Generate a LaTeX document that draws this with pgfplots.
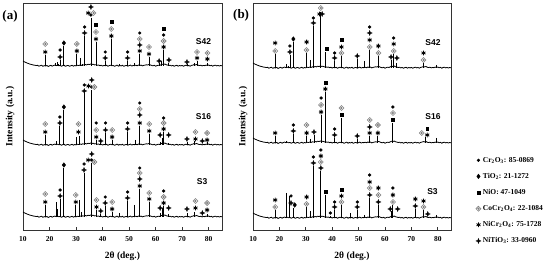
\documentclass[border=0pt]{standalone}
\usepackage{fontspec}
\setmainfont{Liberation Serif}
\newfontfamily\arialfont{Liberation Sans}
\usepackage{pgfplots}
\pgfplotsset{compat=1.18}
\usepackage{pgfplotstable}

% four point star (NiTiO3)
\pgfdeclareplotmark{fourstar}{%
  \pgfpathmoveto{\pgfpoint{0pt}{\pgfplotmarksize}}%
  \pgfpathlineto{\pgfpoint{0.28\pgfplotmarksize}{0.28\pgfplotmarksize}}%
  \pgfpathlineto{\pgfpoint{\pgfplotmarksize}{0pt}}%
  \pgfpathlineto{\pgfpoint{0.28\pgfplotmarksize}{-0.28\pgfplotmarksize}}%
  \pgfpathlineto{\pgfpoint{0pt}{-\pgfplotmarksize}}%
  \pgfpathlineto{\pgfpoint{-0.28\pgfplotmarksize}{-0.28\pgfplotmarksize}}%
  \pgfpathlineto{\pgfpoint{-\pgfplotmarksize}{0pt}}%
  \pgfpathlineto{\pgfpoint{-0.28\pgfplotmarksize}{0.28\pgfplotmarksize}}%
  \pgfpathclose
  \pgfusepathqfillstroke}
% diamond in diamond (CoCr2O4)
\pgfdeclareplotmark{ddiamond}{%
  \pgfpathmoveto{\pgfpoint{0pt}{\pgfplotmarksize}}%
  \pgfpathlineto{\pgfpoint{\pgfplotmarksize}{0pt}}%
  \pgfpathlineto{\pgfpoint{0pt}{-\pgfplotmarksize}}%
  \pgfpathlineto{\pgfpoint{-\pgfplotmarksize}{0pt}}%
  \pgfpathclose
  \pgfsetfillcolor{white}\pgfusepathqfillstroke
  \pgfpathmoveto{\pgfpoint{0pt}{0.5\pgfplotmarksize}}%
  \pgfpathlineto{\pgfpoint{0.5\pgfplotmarksize}{0pt}}%
  \pgfpathlineto{\pgfpoint{0pt}{-0.5\pgfplotmarksize}}%
  \pgfpathlineto{\pgfpoint{-0.5\pgfplotmarksize}{0pt}}%
  \pgfpathclose
  \pgfsetfillcolor{gray}\pgfusepathqfill}

% background noise shared by all patterns (relative to each baseline)
\pgfplotstableread{
x n
10 5.0
10.5 4.2
11 3.6
11.5 3.0
12 2.5
12.5 2.0
13 1.6
13.5 1.3
14 0.9
14.5 0.8
15 0.4
15.5 0.7
16 -0.2
16.5 0.3
17 0.8
17.5 -0.4
18 0.4
18.5 -0.1
19 0.6
19.5 -0.5
20 0.2
20.5 0.7
21 -0.2
21.5 0.5
22 0.9
22.5 0.3
23 0.8
23.5 0.2
24 0.6
24.5 -0.3
25 0.4
25.5 0.8
26 -0.4
26.5 0.3
27 0.6
27.5 -0.3
28 0.2
28.5 0.7
29 -0.2
29.5 0.5
30 0.1
30.5 0.8
31 0.4
31.5 1.0
32 0.6
32.5 1.2
33 0.9
33.5 1.5
34 1.1
34.5 1.8
35 1.4
35.5 2.0
36 1.6
36.5 1.7
37 1.1
37.5 1.3
38 0.7
38.5 1.0
39 0.3
39.5 0.8
40 -0.1
40.5 0.6
41 0.2
41.5 0.7
42 -0.3
42.5 0.4
43 0.8
43.5 0.2
44 0.6
44.5 -0.4
45 0.3
45.5 0.9
46 -0.2
46.5 0.5
47 0.1
47.5 0.7
48 -0.4
48.5 0.3
49 0.6
49.5 -0.2
50 0.4
50.5 0.9
51 -0.1
51.5 0.5
52 0.3
52.5 0.8
53 0.2
53.5 1.0
54 0.5
54.5 0.9
55 0.1
55.5 0.6
56 0.9
56.5 1.2
57 1.0
57.5 1.6
58 1.1
58.5 0.5
59 0.2
59.5 0.7
60 -0.2
60.5 0.4
61 0.8
61.5 0.5
62 1.2
62.5 1.8
63 1.5
63.5 2.0
64 1.2
64.5 0.9
65 0.5
65.5 0.8
66 0.1
66.5 0.6
67 -0.3
67.5 0.4
68 0.7
68.5 -0.2
69 0.5
69.5 0.1
70 0.6
70.5 -0.3
71 0.4
71.5 0.8
72 0.1
72.5 0.5
73 -0.2
73.5 0.6
74 0.9
74.5 1.4
75 1.1
75.5 1.5
76 0.8
76.5 0.4
77 0.8
77.5 0.1
78 0.6
78.5 0.3
79 0.9
79.5 0.5
80 1.0
80.5 0.2
81 0.7
81.5 -0.2
82 0.5
82.5 0.8
83 0.1
83.5 0.6
84 -0.1
84.5 0.5
85 0.2
}\noise

\pgfplotsset{
  xrd/.style={
    scale only axis, height=227pt,
    xmin=10, xmax=85, ymin=0, ymax=227,
    xtick={10,20,...,80}, ytick=\empty,
    xtick pos=lower, tick align=inside, major tick length=3pt,
    axis line style={line width=0.7pt, black!80},
    tick style={line width=0.7pt, black!80},
    /pgf/number format/assume math mode=true,
    tick label style={font=\bfseries\fontsize{7.5}{8}\selectfont},
    xticklabel style={yshift=-3pt},
    xlabel={2θ (deg.)},
    xlabel style={font=\bfseries\fontsize{9.5}{10}\selectfont, yshift=-3pt},
    ylabel={Intensity (a.u.)},
    ylabel style={font=\bfseries\fontsize{9.5}{10}\selectfont, anchor=center},
    clip=false},
  trace/.style={black, line width=0.8pt, line join=round, forget plot},
  spikes/.style={draw=none, mark=none, forget plot,
    error bars/.cd, y dir=minus, y explicit, error mark=none,
    error bar style={draw=black, line width=0.9pt}},
  cr/.style={only marks, mark=*, mark size=1.45pt, black},
  ti/.style={only marks, mark=diamond*, mark size=2.3pt, black},
  nio/.style={only marks, mark=square*, mark size=1.4pt, black},
  co/.style={only marks, mark=ddiamond, mark size=2.5pt, gray, mark options={line width=0.55pt}},
  ncr/.style={only marks, mark=asterisk, mark size=2.3pt, black, mark options={line width=0.85pt}},
  nti/.style={only marks, mark=fourstar, mark size=2.5pt, black, mark options={line width=0.35pt}},
}
\newcommand{\xrdtrace}[2]{%
  \addplot[trace] table[x=x, y expr=\thisrow{n}+#1] {\noise};
  \addplot[spikes] table[x=x, y expr=\thisrow{h}+#1, y error expr=\thisrow{h}, row sep=\\] {x h\\ #2};
}

\begin{document}
\begin{tikzpicture}
\useasboundingbox (0,0) rectangle (550pt,264pt);

% ---------- (a)
\begin{axis}[xrd, width=199pt, at={(23pt,34pt)}, anchor=south west,
  ylabel style={at={(axis description cs:-0.065,0.5)}}]
\xrdtrace{164}{18.4 11\\ 22.4 3\\ 22.9 4\\ 23.3 2\\ 24.0 6\\ 25.4 20\\ 30.3 12\\ 31.6 8\\ 32.3 2\\ 33.1 30\\ 35.7 48\\ 37.5 24\\ 41.0 5\\ 43.3 27\\ 46.5 1.5\\ 49.4 5\\ 52.0 3\\ 54.0 12\\ 57.5 9\\ 61.3 3\\ 62.3 5\\ 63.0 16\\ 65.0 2.5\\ 71.8 2\\ 74.6 3\\ 75.6 5\\ 79.5 3\\}
\xrdtrace{85}{18.4 10\\ 22.6 4\\ 23.9 19\\ 25.4 35\\ 30.3 8\\ 31.3 9\\ 33.1 52\\ 35.7 55\\ 37.6 5\\ 39.3 2\\ 41.1 12\\ 43.6 5\\ 49.4 13\\ 52.2 5\\ 54.0 19\\ 57.6 11\\ 61.7 3\\ 62.4 7\\ 63.0 13\\ 64.9 2\\ 71.8 3\\ 74.6 4\\ 79.4 3\\}
\xrdtrace{13}{18.4 12\\ 22.6 15\\ 23.0 8\\ 24.0 18\\ 25.4 49\\ 29.9 12\\ 31.2 17\\ 32.2 5\\ 33.0 44\\ 35.7 54\\ 37.7 7\\ 39.3 3\\ 41.0 11\\ 43.6 5\\ 46.5 4\\ 49.4 16\\ 52.0 12\\ 54.0 28\\ 57.6 15\\ 61.7 4\\ 62.4 9\\ 63.0 11\\ 64.9 3\\ 71.8 4\\ 74.6 5\\ 79.4 3\\}

\addplot[cr] coordinates {(24.0,180) (33.2,203) (35.6,215) (41.0,178) (49.4,178) (54.0,197) (63.0,195)
  (23.9,113) (33.1,145) (35.9,143) (37.6,107) (41.1,107) (49.4,107) (54.0,127) (63.0,112)
  (24.0,40) (33.0,66) (35.9,70) (41.0,33) (49.4,38) (54.0,62) (63.0,39)};
\addplot[ti] coordinates {(25.4,187) (25.4,123) (25.4,65)};
\addplot[nio] coordinates {(37.5,205) (43.3,208) (63.0,201)};
\addplot[co] coordinates {(18.4,186) (30.3,186) (36.6,217) (37.5,198) (43.3,201) (54.0,191) (57.5,183) (63.0,189) (75.6,178) (79.5,177)
  (18.4,106) (30.9,106) (36.9,143) (37.6,100) (43.6,100) (54.0,121) (57.6,106) (63.0,107) (75.0,98) (79.4,97)
  (18.4,36) (29.9,35) (36.9,68) (37.7,30) (43.6,28) (54.0,57) (57.6,37) (63.0,33) (75.0,29) (79.4,27)};
\addplot[ncr] coordinates {(18.4,178) (30.3,179) (34.6,217) (37.5,191) (43.3,194) (54.0,179) (57.5,176) (63.0,183) (75.6,172) (79.5,171)
  (18.4,98) (30.9,98) (34.7,144) (37.6,93) (43.6,93) (54.0,107) (57.6,99) (63.0,101) (75.0,91) (79.4,90)
  (18.4,28) (29.9,28) (34.6,70) (37.7,23) (43.6,21) (54.0,44) (57.6,31) (63.0,27) (75.0,22) (79.4,20)};
\addplot[nti] coordinates {(24.0,173) (33.2,197) (35.6,223) (41.0,172) (49.4,172) (54.0,185) (61.3,169) (65.0,170) (71.8,168)
  (23.9,107) (33.1,139) (35.9,150) (39.3,89) (41.1,100) (49.4,101) (54.0,115) (61.7,95) (64.9,95) (71.8,91) (77.6,89)
  (24.0,34) (33.0,60) (35.9,76) (39.3,19) (41.0,27) (49.4,32) (54.0,51) (61.7,22) (64.9,22) (71.8,21) (77.6,17)};

\node[font=\arialfont\bfseries\fontsize{8.5}{9}\selectfont] at (axis cs:78,188) {S42};
\node[font=\arialfont\bfseries\fontsize{8.5}{9}\selectfont] at (axis cs:78,113) {S16};
\node[font=\arialfont\bfseries\fontsize{8.5}{9}\selectfont] at (axis cs:77.5,48) {S3};
\node[font=\bfseries\fontsize{13}{14}\selectfont] at (axis description cs:-0.065,0.94) {(a)};
\end{axis}

% ---------- (b)
\begin{axis}[xrd, width=198pt, at={(253pt,34pt)}, anchor=south west,
  ylabel style={at={(axis description cs:-0.05,0.5)}},
  legend style={at={(1.11,0.34)}, anchor=north west, draw=none, fill=none,
    font=\bfseries\fontsize{7.5}{8.5}\selectfont, row sep=5.5pt,
    nodes={inner xsep=2pt}},
  legend cell align=left]
\xrdtrace{162}{18.4 14\\ 22.8 4\\ 23.3 2\\ 24.0 13\\ 25.3 26\\ 30.3 15\\ 31.6 8\\ 32.9 42\\ 35.7 56\\ 37.6 16\\ 40.9 7\\ 43.5 12\\ 49.5 9\\ 52.4 7\\ 54.2 18\\ 57.5 12\\ 62.3 8\\ 63.3 14\\ 64.5 5\\ 74.6 5\\ 79.6 3\\}
\xrdtrace{87}{18.4 7\\ 22.8 2\\ 25.3 9\\ 30.3 7\\ 31.6 4\\ 33.1 8\\ 35.8 28\\ 37.4 51\\ 40.9 5\\ 43.5 25\\ 49.5 4\\ 54.2 7\\ 57.3 7\\ 63.0 20\\ 75.4 6\\ 79.6 5\\}
\xrdtrace{12}{18.4 8\\ 22.6 25\\ 23.9 22\\ 25.3 10\\ 30.3 11\\ 31.6 7\\ 32.9 52\\ 35.7 47\\ 37.4 23\\ 39.3 2\\ 40.9 8\\ 43.5 13\\ 46.9 5\\ 49.5 8\\ 52.4 3\\ 54.2 20\\ 57.5 13\\ 62.4 7\\ 63.0 13\\ 71.5 9\\ 74.6 8\\ 79.5 3\\}

\addplot[cr] coordinates {(24.0,184) (32.9,212) (40.9,177) (54.2,203) (63.3,192)
  (25.3,105) (35.8,132) (40.9,101) (63.0,123)
  (24.4,34) (32.9,73) (35.7,80) (39.3,17) (40.9,28) (49.5,28) (54.2,55) (63.0,42)};
\addlegendentry{Cr\textsubscript{2}O\textsubscript{3}: 85-0869}
\addplot[ti] coordinates {(25.3,191) (25.8,25)};
\addlegendentry{TiO\textsubscript{2}: 21-1272}
\addplot[nio] coordinates {(37.8,181) (43.6,190) (37.4,147) (43.5,115) (63.0,110) (76.0,101) (37.4,38) (43.5,40)};
\addlegendentry{NiO: 47-1049}
\addplot[co] coordinates {(18.4,179) (30.3,180) (35.7,222) (43.5,177) (54.2,183) (57.5,177) (63.3,179) (74.6,170)
  (30.3,105) (35.8,125) (43.5,122) (54.2,110) (57.3,105) (63.0,117) (73.9,97)
  (18.4,23) (30.3,26) (35.7,68) (43.5,28) (54.2,42) (57.5,35) (63.0,28) (74.6,23)};
\addlegendentry{CoCr\textsubscript{2}O\textsubscript{4}: 22-1084}
\addplot[ncr] coordinates {(18.4,187) (30.3,188) (35.2,216) (43.5,183) (54.2,190) (57.5,184) (63.3,186) (74.6,177)
  (18.4,97) (30.3,97) (35.8,118) (37.4,141) (54.2,97) (57.3,97) (76.0,95)
  (18.4,30) (30.3,33) (35.7,74) (43.5,34) (54.2,48) (57.5,42) (63.0,35) (71.5,31) (74.6,29)};
\addlegendentry{NiCr\textsubscript{2}O\textsubscript{4}: 75-1728}
\addplot[nti] coordinates {(24.0,178) (32.9,207) (36.2,216) (40.9,172) (49.5,174) (54.2,197) (62.3,173) (64.5,172)
  (25.3,99) (33.1,98) (40.9,95) (49.5,94) (54.2,103)
  (24.4,27) (32.9,67) (35.7,62) (40.9,23) (49.5,23) (54.2,35) (57.5,28) (62.0,21) (64.8,21) (71.5,24) (76.2,16)};
\addlegendentry{NiTiO\textsubscript{3}: 33-0960}

\node[font=\arialfont\bfseries\fontsize{8.5}{9}\selectfont] at (axis cs:78.2,187) {S42};
\node[font=\arialfont\bfseries\fontsize{8.5}{9}\selectfont] at (axis cs:78.2,113) {S16};
\node[font=\arialfont\bfseries\fontsize{8.5}{9}\selectfont] at (axis cs:78,38) {S3};
\node[font=\bfseries\fontsize{13}{14}\selectfont] at (axis description cs:-0.06,0.947) {(b)};
\end{axis}
\end{tikzpicture}
\end{document}
